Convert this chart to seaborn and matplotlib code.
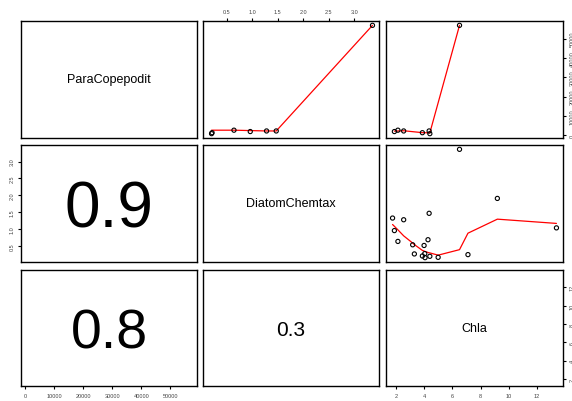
import numpy as np
import pandas as pd
import matplotlib
matplotlib.use("Agg")
import matplotlib.pyplot as plt
import seaborn as sns
from matplotlib.ticker import MultipleLocator

sns.set_style("white")
plt.rcParams["font.family"] = ["Liberation Sans", "DejaVu Sans"]
plt.rcParams["text.color"] = "black"

# values (NaN = missing)
para_copepodit = [np.nan, 1900, 2600, 2200, np.nan, np.nan, 1300, np.nan, np.nan,
                  np.nan, np.nan, 2200, 800, np.nan, 56900, np.nan, np.nan, np.nan]
diatom_chemtax = [1.33, 0.96, 0.64, 1.28, 0.54, 0.27, 0.21, 0.52, 0.28,
                  0.16, 0.69, 1.47, 0.20, 0.17, 3.36, 0.25, 1.91, 1.04]
chla = [1.74, 1.87, 2.12, 2.53, 3.17, 3.29, 3.86, 3.98, 4.03,
        4.05, 4.26, 4.34, 4.39, 4.98, 6.50, 7.10, 9.19, 13.39]

var_names = ["ParaCopepodit", "DiatomChemtax", "Chla"]
cor_labels = {(1, 0): "0.9", (2, 0): "0.8", (2, 1): "0.3"}

df = pd.DataFrame({"ParaCopepodit": para_copepodit,
                   "DiatomChemtax": diatom_chemtax,
                   "Chla": chla})

# styling
cor_size = {(1, 0): 46, (2, 0): 40, (2, 1): 15}
tick_step = {"ParaCopepodit": 10000, "DiatomChemtax": 0.5, "Chla": 2}
col_px = [(21, 197), (203, 379), (386, 563)]
row_px = [(22, 139), (146, 263), (271, 387)]
W, H = 572, 402


def lowest(x, y, xs, nleft, nright, userw, rw):
    n = len(x)
    rng = x[-1] - x[0]
    h = max(xs - x[nleft], x[nright] - xs)
    h9, h1 = 0.999 * h, 0.001 * h
    w = np.zeros(n)
    a = 0.0
    j = nleft
    while j < n:
        r = abs(x[j] - xs)
        if r <= h9:
            w[j] = 1.0 if r <= h1 else (1 - (r / h) ** 3) ** 3
            if userw:
                w[j] *= rw[j]
            a += w[j]
        elif x[j] > xs:
            break
        j += 1
    nrt = j - 1
    if a <= 0:
        return 0.0, False
    sl = slice(nleft, nrt + 1)
    w[sl] /= a
    if h > 0:
        a = np.sum(w[sl] * x[sl])
        b = xs - a
        c = np.sum(w[sl] * (x[sl] - a) ** 2)
        if np.sqrt(c) > 0.001 * rng:
            b /= c
            w[sl] *= b * (x[sl] - a) + 1
    return np.sum(w[sl] * y[sl]), True


def r_lowess(x, y, f=2 / 3, nsteps=3):
    # port of R's clowess, as used by panel.smooth
    order = np.argsort(x, kind="stable")
    x = np.asarray(x, float)[order]
    y = np.asarray(y, float)[order]
    n = len(x)
    delta = 0.01 * (x[-1] - x[0])
    ns = max(2, min(n, int(f * n + 1e-7)))
    ys = np.zeros(n)
    rw = np.ones(n)
    for it in range(nsteps + 1):
        nleft, nright, last, i = 0, ns - 1, -1, 0
        while True:
            if nright < n - 1:
                d1 = x[i] - x[nleft]
                d2 = x[nright + 1] - x[i]
                if d1 > d2:
                    nleft += 1
                    nright += 1
                    continue
            val, ok = lowest(x, y, x[i], nleft, nright, it > 0, rw)
            ys[i] = val if ok else y[i]
            if last < i - 1:
                denom = x[i] - x[last]
                for j in range(last + 1, i):
                    alpha = (x[j] - x[last]) / denom
                    ys[j] = alpha * ys[i] + (1 - alpha) * ys[last]
            last = i
            cut = x[last] + delta
            i = last + 1
            while i < n:
                if x[i] > cut:
                    break
                if x[i] == x[last]:
                    ys[i] = ys[last]
                    last = i
                i += 1
            i = max(last + 1, i - 1)
            if last >= n - 1:
                break
        res = y - ys
        if it == nsteps:
            break
        sc = np.mean(np.abs(res))
        r = np.abs(res)
        cmad = 6 * np.median(r)
        if cmad < 1e-7 * sc:
            break
        rw = np.where(r <= 0.001 * cmad, 1.0,
                      np.where(r <= 0.999 * cmad, (1 - (r / cmad) ** 2) ** 2, 0.0))
    return x, ys


def padded(v):
    lo, hi = np.nanmin(v), np.nanmax(v)
    pad = 0.04 * (hi - lo)
    return lo - pad, hi + pad


fig = plt.figure(figsize=(W / 100, H / 100), dpi=100)
fig.patch.set_facecolor("white")

for i, yname in enumerate(var_names):
    for j, xname in enumerate(var_names):
        x0, x1 = col_px[j]
        y0, y1 = row_px[i]
        ax = fig.add_axes([x0 / W, 1 - y1 / H, (x1 - x0) / W, (y1 - y0) / H])
        ax.set_facecolor("white")
        ax.set_xlim(*padded(df[xname]))
        ax.set_ylim(*padded(df[yname]))
        for sp in ax.spines.values():
            sp.set_visible(True)
            sp.set_color("black")
            sp.set_linewidth(1.0)
        ax.tick_params(which="both", bottom=False, top=False, left=False, right=False,
                       labelbottom=False, labeltop=False, labelleft=False, labelright=False,
                       direction="out", length=2.2, width=0.8, pad=2.5,
                       labelsize=4, labelcolor="#444444", color="black")
        ax.xaxis.set_major_locator(MultipleLocator(tick_step[xname]))
        ax.yaxis.set_major_locator(MultipleLocator(tick_step[yname]))
        ax.set_xlabel("")
        ax.set_ylabel("")

        if j > i:
            sub = df[[xname, yname]].dropna()
            sns.scatterplot(x=sub[xname].values, y=sub[yname].values, ax=ax,
                            facecolors="none", edgecolors="black", linewidths=0.8,
                            s=9, legend=False, zorder=3)
            lx, ly = r_lowess(sub[xname].values, sub[yname].values)
            sns.lineplot(x=lx, y=ly, ax=ax, sort=False, estimator=None,
                         color="red", lw=0.9, zorder=2)
        elif i == j:
            ax.text(0.5, 0.5, yname, transform=ax.transAxes, ha="center",
                    va="center", fontsize=9, color="black")
        else:
            ax.text(0.5, 0.5, cor_labels[(i, j)], transform=ax.transAxes,
                    ha="center", va="center_baseline", fontsize=cor_size[(i, j)],
                    color="black")

        # R pairs() style alternating axes
        if i == 2 and j % 2 == 0:
            ax.tick_params(axis="x", bottom=True, labelbottom=True)
        if i == 0 and j % 2 == 1:
            ax.tick_params(axis="x", top=True, labeltop=True)
        if j == 0 and i % 2 == 1:
            ax.tick_params(axis="y", left=True, labelleft=True, labelrotation=90)
            for lab in ax.get_yticklabels():
                lab.set_va("center")
        if j == 2 and i % 2 == 0:
            ax.tick_params(axis="y", right=True, labelright=True, labelrotation=90)
            for lab in ax.get_yticklabels():
                lab.set_va("center")

fig.savefig("out.png", dpi=100)
